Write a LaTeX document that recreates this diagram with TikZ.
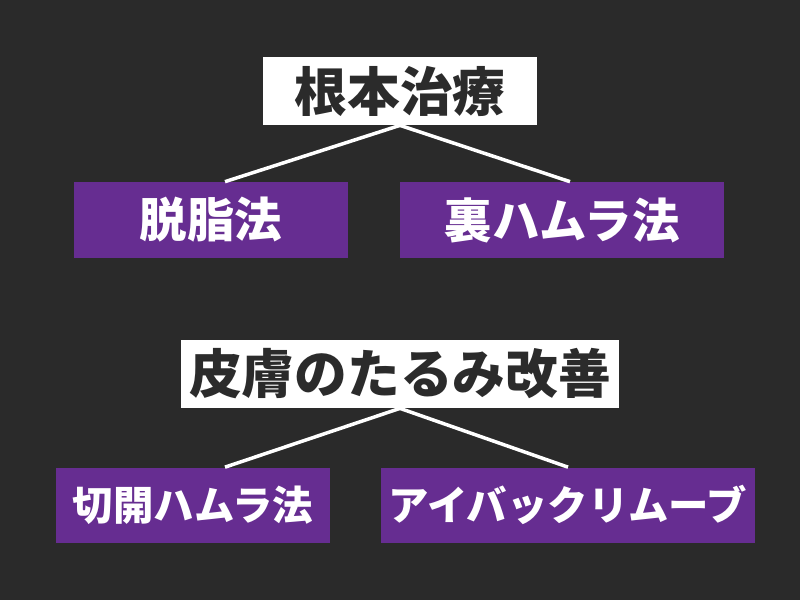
\documentclass[tikz,border=0pt]{standalone}
\usepackage{fontspec}
\usepackage{tikz}
\usetikzlibrary{positioning}
\newfontfamily\cjk{Noto Sans CJK JP Black}
\definecolor{bgdark}{HTML}{2A2A2A}
\definecolor{mypurple}{HTML}{662D91}
\definecolor{textdark}{HTML}{2B2B2B}

\begin{document}
\begin{tikzpicture}[x=0.02cm,y=-0.02cm]
    \tikzstyle{root} = [shape=rectangle, fill=white, text=textdark, inner sep=0, minimum height=1.36cm, font=\cjk\fontsize{30}{31}\selectfont]
    \tikzstyle{method} = [shape=rectangle, fill=mypurple, text=white, inner sep=0, font=\cjk\fontsize{27}{29}\selectfont]
    \tikzstyle{link} = [white, line width=0.07cm]
    \fill[bgdark] (0,0) rectangle (800,600);
    \useasboundingbox (0,0) rectangle (800,600);

    % upper tree
    \node[root, minimum width=5.5cm] (r1) at (400,91) {根本治療};
    \node[method, minimum width=5.48cm, minimum height=1.52cm] (m1) at (211,220) {脱脂法};
    \node[method, minimum width=6.5cm, minimum height=1.52cm] (m2) at (562,220) {裏ハムラ法};
    \draw[link] (r1.south) -- ([xshift=0.28cm]m1.north);
    \draw[link] (r1.south) -- ([xshift=0.16cm]m2.north);

    % lower tree
    \node[root, minimum width=8.78cm] (r2) at (400,374) {皮膚のたるみ改善};
    \node[method, minimum width=5.48cm, minimum height=1.5cm, font=\cjk\fontsize{23}{25}\selectfont] (m3) at (193,505) {切開ハムラ法};
    \node[method, minimum width=7.5cm, minimum height=1.5cm, font=\cjk\fontsize{23}{25}\selectfont] (m4) at (568,505) {アイバックリムーブ};
    \draw[link] (r2.south) -- ([xshift=0.64cm]m3.north);
    \draw[link] (r2.south) -- (m4.north);
\end{tikzpicture}
\end{document}
